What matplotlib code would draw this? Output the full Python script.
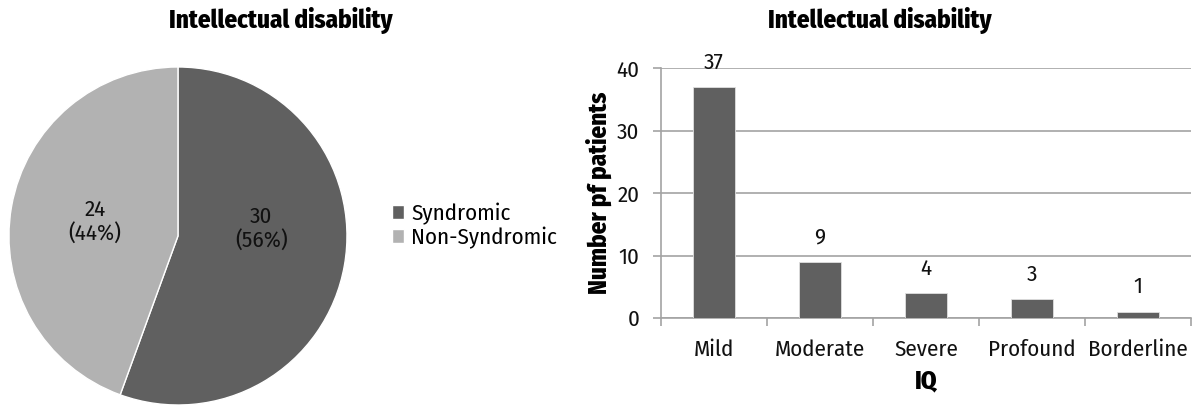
import matplotlib.pyplot as plt
import numpy as np

# pie data
types = ['Syndromic', 'Non-Syndromic']
type_counts = [30, 24]

# bar data
iq_levels = ['Mild', 'Moderate', 'Severe', 'Profound', 'Borderline']
iq_counts = [37, 9, 4, 3, 1]

plt.rcParams['font.family'] = ['Fira Sans Condensed', 'Roboto Condensed', 'DejaVu Sans']

dark = '#606060'
light = '#b2b2b2'
grey = '#a3a3a3'
txt = '#111111'
fs = 16.5
title_kw = dict(fontsize=18, fontweight='heavy', ha='center', va='center')

fig = plt.figure(figsize=(11.94, 4.05), dpi=100)

# --- pie ---
ax1 = fig.add_axes([0.0075, 0.0, 0.2831, 0.8346])
total = sum(type_counts)
wedges, texts, autotexts = ax1.pie(
    type_counts, colors=[dark, light], startangle=90, counterclock=False,
    autopct=lambda p: '%d\n(%d%%)' % (round(p * total / 100), round(p)),
    pctdistance=0.5, wedgeprops=dict(edgecolor='white', linewidth=1),
    textprops=dict(fontsize=fs, color=txt))
ax1.set_xlim(-1.0, 1.0)
ax1.set_ylim(-1.0, 1.0)
ax1.set_aspect('equal')
for t in autotexts:
    t.set_linespacing(1.1)
px, py = autotexts[0].get_position()
autotexts[0].set_position((px, py + 0.13))
fig.text(0.2353, 0.95, 'Intellectual disability', **title_kw)
ax1.legend(wedges, types, loc='center left', bbox_to_anchor=(1.105, 0.53),
           frameon=False, prop=dict(size=fs),
           handlelength=0.55, handleheight=0.55,
           handletextpad=0.3, labelspacing=0.1, borderaxespad=0)

# --- bars ---
ax2 = fig.add_axes([0.5536, 0.2148, 0.4439, 0.617])
x = np.arange(len(iq_levels))
ax2.bar(x, iq_counts, width=0.39, color=dark, zorder=3,
        edgecolor='#e0e0e0', linewidth=0.6)
for xi, v in zip(x, iq_counts):
    ax2.annotate(str(v), (xi, v), xytext=(0, 10), textcoords='offset points',
                 ha='center', va='bottom', fontsize=fs, color=txt)
ax2.set_xlim(-0.5, len(iq_levels) - 0.5)
ax2.set_ylim(0, 40)
ax2.set_yticks([0, 10, 20, 30, 40])
ax2.yaxis.grid(True, color=grey, linewidth=1.2, zorder=0)
ax2.set_xticks(x)
ax2.set_xticklabels(iq_levels)
ax2.set_xticks(np.arange(len(iq_levels) + 1) - 0.5, minor=True)
ax2.tick_params(axis='x', which='major', length=0, pad=15, labelsize=fs,
                labelcolor=txt)
ax2.tick_params(axis='x', which='minor', length=5.5, color=grey, width=1.2)
ax2.tick_params(axis='y', length=5.5, color=grey, width=1.2, labelsize=fs,
                pad=10, labelcolor=txt)
for s in ['top', 'right']:
    ax2.spines[s].set_visible(False)
for s in ['left', 'bottom']:
    ax2.spines[s].set_color(grey)
    ax2.spines[s].set_linewidth(1.2)
ax2.set_xlabel('IQ', fontsize=18, fontweight='heavy', labelpad=6)
ax2.set_ylabel('Number pf patients', fontsize=18, fontweight='heavy', labelpad=3)
fig.text(0.737, 0.95, 'Intellectual disability', **title_kw)

fig.savefig('out.png', dpi=100, facecolor='white')
